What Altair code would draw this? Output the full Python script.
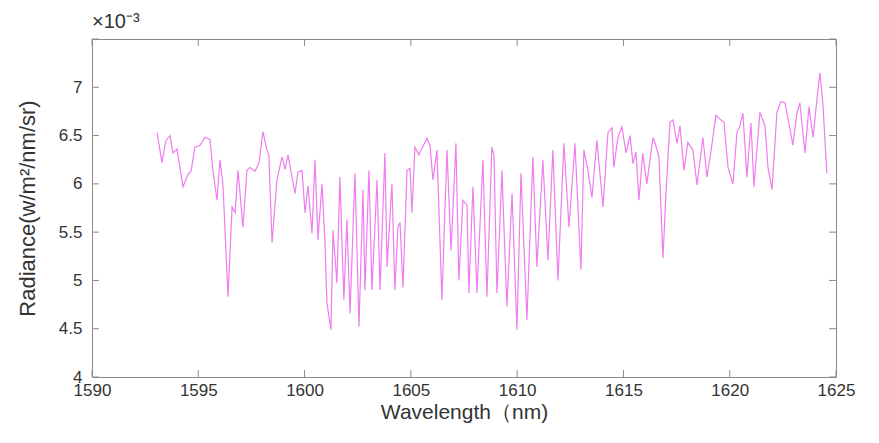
import altair as alt
import pandas as pd

# Wavelength (nm) and radiance (x1e-3 W/m^2/nm/sr)
wavelength = [
    1593.06, 1593.29, 1593.48, 1593.67, 1593.81, 1594.00, 1594.28, 1594.52, 1594.66, 1594.84,
    1595.08, 1595.31, 1595.55, 1595.69, 1595.88, 1596.02, 1596.16, 1596.40, 1596.59, 1596.73,
    1596.87, 1597.10, 1597.29, 1597.43, 1597.67, 1597.86, 1598.04, 1598.23, 1598.32, 1598.47,
    1598.70, 1598.94, 1599.08, 1599.22, 1599.41, 1599.55, 1599.69, 1599.88, 1600.02, 1600.16,
    1600.35, 1600.49, 1600.63, 1600.82, 1600.96, 1601.05, 1601.24, 1601.34, 1601.52, 1601.66,
    1601.85, 1601.99, 1602.14, 1602.37, 1602.56, 1602.75, 1602.84, 1603.03, 1603.17, 1603.41,
    1603.55, 1603.78, 1603.88, 1604.11, 1604.25, 1604.39, 1604.49, 1604.63, 1604.82, 1604.96,
    1605.05, 1605.19, 1605.38, 1605.52, 1605.76, 1605.90, 1606.04, 1606.23, 1606.46, 1606.70,
    1606.89, 1607.12, 1607.26, 1607.45, 1607.64, 1607.73, 1607.92, 1608.11, 1608.39, 1608.58,
    1608.81, 1608.91, 1609.05, 1609.29, 1609.33, 1609.52, 1609.76, 1609.99, 1610.18, 1610.46,
    1610.74, 1610.93, 1611.21, 1611.45, 1611.68, 1611.92, 1612.20, 1612.44, 1612.72, 1613.00,
    1613.14, 1613.33, 1613.52, 1613.75, 1614.04, 1614.27, 1614.46, 1614.55, 1614.74, 1614.93,
    1615.12, 1615.31, 1615.45, 1615.59, 1615.73, 1615.91, 1616.10, 1616.39, 1616.52, 1616.67,
    1616.86, 1617.00, 1617.19, 1617.33, 1617.52, 1617.66, 1617.85, 1618.03, 1618.27, 1618.46,
    1618.74, 1618.93, 1619.16, 1619.35, 1619.59, 1619.73, 1619.92, 1620.15, 1620.34, 1620.48,
    1620.62, 1620.81, 1621.00, 1621.14, 1621.42, 1621.66, 1621.80, 1621.99, 1622.22, 1622.41,
    1622.60, 1622.79, 1622.97, 1623.16, 1623.30, 1623.54, 1623.73, 1623.92, 1624.10, 1624.24,
    1624.38, 1624.57,
]
radiance = [
    6.53, 6.22, 6.45, 6.50, 6.32, 6.36, 5.97, 6.10, 6.13, 6.38,
    6.40, 6.48, 6.46, 6.14, 5.83, 6.25, 6.00, 4.83, 5.76, 5.70,
    6.14, 5.55, 6.14, 6.17, 6.13, 6.22, 6.54, 6.35, 6.30, 5.39,
    6.04, 6.28, 6.15, 6.30, 6.07, 5.90, 6.12, 6.14, 5.70, 5.98,
    5.49, 6.25, 5.42, 6.00, 5.39, 4.77, 4.49, 5.52, 4.97, 6.07,
    4.80, 5.63, 4.66, 6.11, 4.52, 5.94, 4.90, 6.14, 4.90, 6.04,
    4.90, 6.32, 5.14, 6.00, 4.90, 5.55, 5.60, 4.93, 6.14, 6.16,
    5.70, 6.38, 6.30, 6.37, 6.47, 6.40, 6.04, 6.35, 4.80, 6.35,
    5.31, 6.42, 5.00, 5.83, 5.78, 4.87, 5.97, 4.87, 6.25, 4.83,
    6.38, 6.30, 4.87, 6.14, 5.85, 4.73, 5.90, 4.49, 6.11, 4.59,
    6.28, 5.14, 6.25, 5.21, 6.35, 5.00, 6.42, 5.55, 6.42, 5.11,
    6.35, 6.14, 5.86, 6.45, 5.76, 6.53, 6.58, 6.17, 6.48, 6.59,
    6.32, 6.50, 6.21, 6.33, 5.83, 6.32, 6.00, 6.48, 6.40, 6.28,
    5.23, 5.90, 6.64, 6.66, 6.42, 6.60, 6.14, 6.43, 6.35, 5.99,
    6.48, 6.07, 6.40, 6.71, 6.66, 6.64, 6.17, 6.00, 6.53, 6.60,
    6.73, 6.07, 6.63, 5.97, 6.74, 6.60, 6.17, 5.94, 6.74, 6.85,
    6.84, 6.62, 6.40, 6.73, 6.84, 6.32, 6.80, 6.48, 6.87, 7.15,
    6.84, 6.11,
]

x_ticks = [1590, 1595, 1600, 1605, 1610, 1615, 1620, 1625]
y_labels = [4, 4.5, 5, 5.5, 6, 6.5, 7]
y_ticks = [4, 4.5, 5, 5.5, 6, 6.5, 7, 7.5]

df = pd.DataFrame({"wl": wavelength, "rad": radiance})
xt = pd.DataFrame({"wl": x_ticks})
yt = pd.DataFrame({"rad": y_ticks})

W, H = 744, 338
TL = 7  # inward tick length (px)
FONT = "Liberation Sans"
LABEL = "#333333"
TICK = "#8a8a8a"

xs = alt.Scale(domain=[1590, 1625], nice=False, zero=False)
ys = alt.Scale(domain=[4, 7.5], nice=False, zero=False)

main = alt.Chart(df).mark_line(color="#f07cf0", strokeWidth=1.2).encode(
    x=alt.X("wl:Q", scale=xs, axis=alt.Axis(
        orient="bottom", values=x_ticks, format="d", tickSize=0, domain=False, grid=False,
        labelFontSize=17, labelColor=LABEL, labelFont=FONT, labelPadding=5,
        title="Wavelength（nm)", titleFontSize=21, titleFontWeight="normal",
        titleColor=LABEL, titleFont=FONT, titlePadding=3, labelFlush=False)),
    y=alt.Y("rad:Q", scale=ys, axis=alt.Axis(
        orient="left", values=y_labels, format="~g", tickSize=0, domain=False, grid=False,
        labelFontSize=17, labelColor=LABEL, labelFont=FONT, labelPadding=10,
        title="Radiance(w/m²/nm/sr)", titleFontSize=22, titleFontWeight="normal",
        titleColor=LABEL, titleFont=FONT, titlePadding=19, labelFlush=False)),
)

tick_style = dict(color=TICK, strokeWidth=1)

bottom_ticks = alt.Chart(xt).mark_rule(**tick_style).encode(
    x=alt.X("wl:Q", scale=xs), y=alt.value(H), y2=alt.value(H - TL))
top_ticks = alt.Chart(xt).mark_rule(**tick_style).encode(
    x=alt.X("wl:Q", scale=xs), y=alt.value(0), y2=alt.value(TL))
left_ticks = alt.Chart(yt).mark_rule(**tick_style).encode(
    y=alt.Y("rad:Q", scale=ys), x=alt.value(0), x2=alt.value(TL))
right_ticks = alt.Chart(yt).mark_rule(**tick_style).encode(
    y=alt.Y("rad:Q", scale=ys), x=alt.value(W), x2=alt.value(W - TL))

chart = alt.layer(main, bottom_ticks, top_ticks, left_ticks, right_ticks).properties(
    width=W, height=H,
    autosize=alt.AutoSizeParams(type="none"),
    padding={"left": 84, "top": 31, "right": 35, "bottom": 58},
    title=alt.TitleParams(
        "×10⁻³", anchor="start", frame="group", fontSize=20, fontWeight="normal",
        color=LABEL, font=FONT, offset=7),
).configure_view(stroke="#8a8a8a", strokeWidth=1)

chart.save("out.html", embed_options={"renderer": "svg", "actions": False})
